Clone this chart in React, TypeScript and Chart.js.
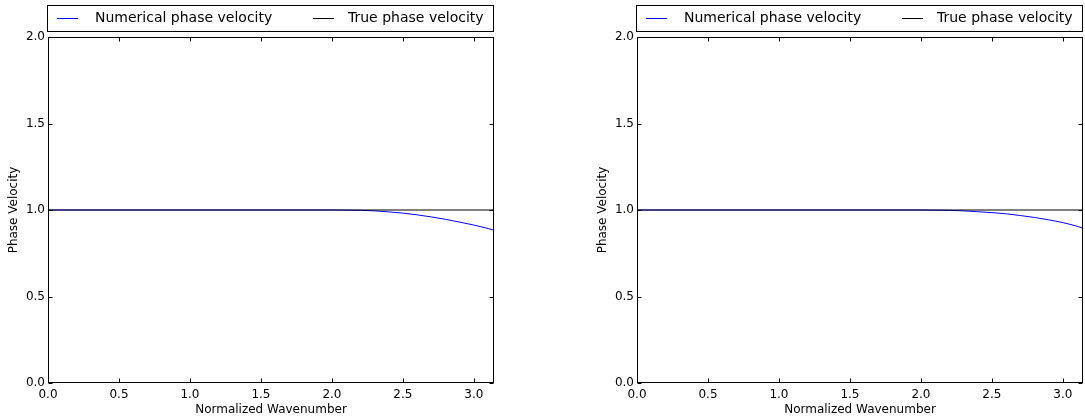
import React, { useEffect, useRef } from "react";
import { Chart, registerables } from "chart.js";

Chart.register(...registerables);

const FONT = "'DejaVu Sans', sans-serif";

const wavenumbers = [0, 0.5, 1.0, 1.5, 2.0, 2.1, 2.2, 2.3, 2.4, 2.5, 2.6, 2.7, 2.8, 2.9, 3.0, 3.1, 3.14159];
const numericalLeft = [1, 1, 1, 1, 1.0, 0.999, 0.998, 0.995, 0.989, 0.982, 0.972, 0.96, 0.946, 0.93, 0.913, 0.893, 0.883];
const numericalRight = [1, 1, 1, 1, 1.0, 0.999, 0.998, 0.995, 0.99, 0.985, 0.978, 0.968, 0.957, 0.943, 0.927, 0.906, 0.895];
const trueX = [0, 3.14159];
const trueY = [1, 1];
const xTicks = [0, 0.5, 1.0, 1.5, 2.0, 2.5, 3.0];
const yTicks = [0, 0.5, 1.0, 1.5, 2.0];
const legendLabels = ["Numerical phase velocity", "True phase velocity"];
const xTitle = "Normalized Wavenumber";
const yTitle = "Phase Velocity";

const framePlugin = {
  id: "mplFrame",
  afterDatasetsDraw(chart: any) {
    const { ctx, chartArea: a, scales } = chart;
    const L = Math.round(a.left) + 0.5;
    const R = Math.round(a.right) - 0.5;
    const T = Math.round(a.top) + 0.5;
    const B = Math.round(a.bottom) - 0.5;
    ctx.save();
    ctx.strokeStyle = "#000";
    ctx.lineWidth = 1;
    ctx.strokeRect(L, T, R - L, B - T);
    const tl = 4;
    ctx.beginPath();
    for (const v of xTicks) {
      const px = Math.round(scales.x.getPixelForValue(v)) + 0.5;
      ctx.moveTo(px, B);
      ctx.lineTo(px, B - tl);
      ctx.moveTo(px, T);
      ctx.lineTo(px, T + tl);
    }
    for (const v of yTicks) {
      const py = Math.round(scales.y.getPixelForValue(v)) + 0.5;
      ctx.moveTo(L, py);
      ctx.lineTo(L + tl, py);
      ctx.moveTo(R, py);
      ctx.lineTo(R - tl, py);
    }
    ctx.stroke();

    // axis titles
    ctx.fillStyle = "#000";
    ctx.font = "12px " + FONT;
    ctx.textAlign = "center";
    ctx.textBaseline = "middle";
    ctx.fillText(xTitle, (a.left + a.right) / 2, 410);
    ctx.save();
    ctx.translate(a.left - 34, (a.top + a.bottom) / 2);
    ctx.rotate(-Math.PI / 2);
    ctx.fillText(yTitle, 0, 0);
    ctx.restore();

    // legend (matplotlib-like, expanded)
    const bx = Math.round(a.left) - 0.5;
    const bw = Math.round(a.right) - Math.round(a.left);
    ctx.strokeStyle = "#000";
    ctx.strokeRect(bx, 5.5, bw, 26);
    const ds = chart.data.datasets;
    const entries = [
      { lx: 9, tx: 47, ds: ds[0] },
      { lx: 265, tx: 300, ds: ds[1] },
    ];
    ctx.font = "14px " + FONT;
    ctx.textAlign = "left";
    for (const e of entries) {
      ctx.strokeStyle = e.ds.borderColor;
      ctx.beginPath();
      ctx.moveTo(a.left + e.lx, 18.5);
      ctx.lineTo(a.left + e.lx + 21, 18.5);
      ctx.stroke();
      ctx.fillStyle = "#000";
      ctx.fillText(e.ds.label, a.left + e.tx, 18);
    }
    ctx.restore();
  },
};

function Panel({ numerical, left, width }: { numerical: number[]; left: number; width: number }) {
  const ref = useRef<HTMLCanvasElement | null>(null);
  useEffect(() => {
    if (!ref.current) return;
    const chart = new Chart(ref.current, {
      type: "line",
      data: {
        datasets: [
          {
            label: legendLabels[0],
            data: wavenumbers.map((x, i) => ({ x, y: numerical[i] })),
            borderColor: "#0000ff",
            borderWidth: 1,
            pointRadius: 0,
            fill: false,
            cubicInterpolationMode: "monotone",
            order: 2,
          },
          {
            label: legendLabels[1],
            data: trueX.map((x, i) => ({ x, y: trueY[i] })),
            borderColor: "#000000",
            borderWidth: 1,
            pointRadius: 0,
            fill: false,
            order: 1,
          },
        ],
      },
      options: {
        responsive: false,
        animation: false,
        devicePixelRatio: 1,
        layout: { padding: { left: 0, right: width - 494, top: 37, bottom: 0 } },
        plugins: { legend: { display: false }, tooltip: { enabled: false } },
        scales: {
          x: {
            type: "linear",
            min: 0,
            max: 3.14159,
            grid: { display: false, drawTicks: false },
            border: { display: false },
            afterFit: (s: any) => {
              s.height = 37;
            },
            afterBuildTicks: (s: any) => {
              s.ticks = xTicks.map((v) => ({ value: v }));
            },
            ticks: {
              padding: 5,
              maxRotation: 0,
              autoSkip: false,
              color: "#000",
              font: { family: FONT, size: 12 },
              callback: (v: any) => Number(v).toFixed(1),
            },
          },
          y: {
            type: "linear",
            min: 0,
            max: 2,
            grid: { display: false, drawTicks: false },
            border: { display: false },
            afterFit: (s: any) => {
              s.width = 48;
            },
            afterBuildTicks: (s: any) => {
              s.ticks = yTicks.map((v) => ({ value: v }));
            },
            ticks: {
              padding: 3,
              color: "#000",
              font: { family: FONT, size: 12 },
              callback: (v: any) => Number(v).toFixed(1),
            },
          },
        },
      },
      plugins: [framePlugin],
    } as any);
    return () => chart.destroy();
  }, []);
  return (
    <canvas
      ref={ref}
      width={width}
      height={420}
      style={{ position: "absolute", left, top: 0, width, height: 420 }}
    />
  );
}

export default function App() {
  return (
    <div style={{ position: "absolute", left: 0, top: 0, width: 1085, height: 420, background: "#fff", overflow: "hidden" }}>
      <Panel numerical={numericalLeft} left={0} width={500} />
      <Panel numerical={numericalRight} left={589} width={496} />
    </div>
  );
}
